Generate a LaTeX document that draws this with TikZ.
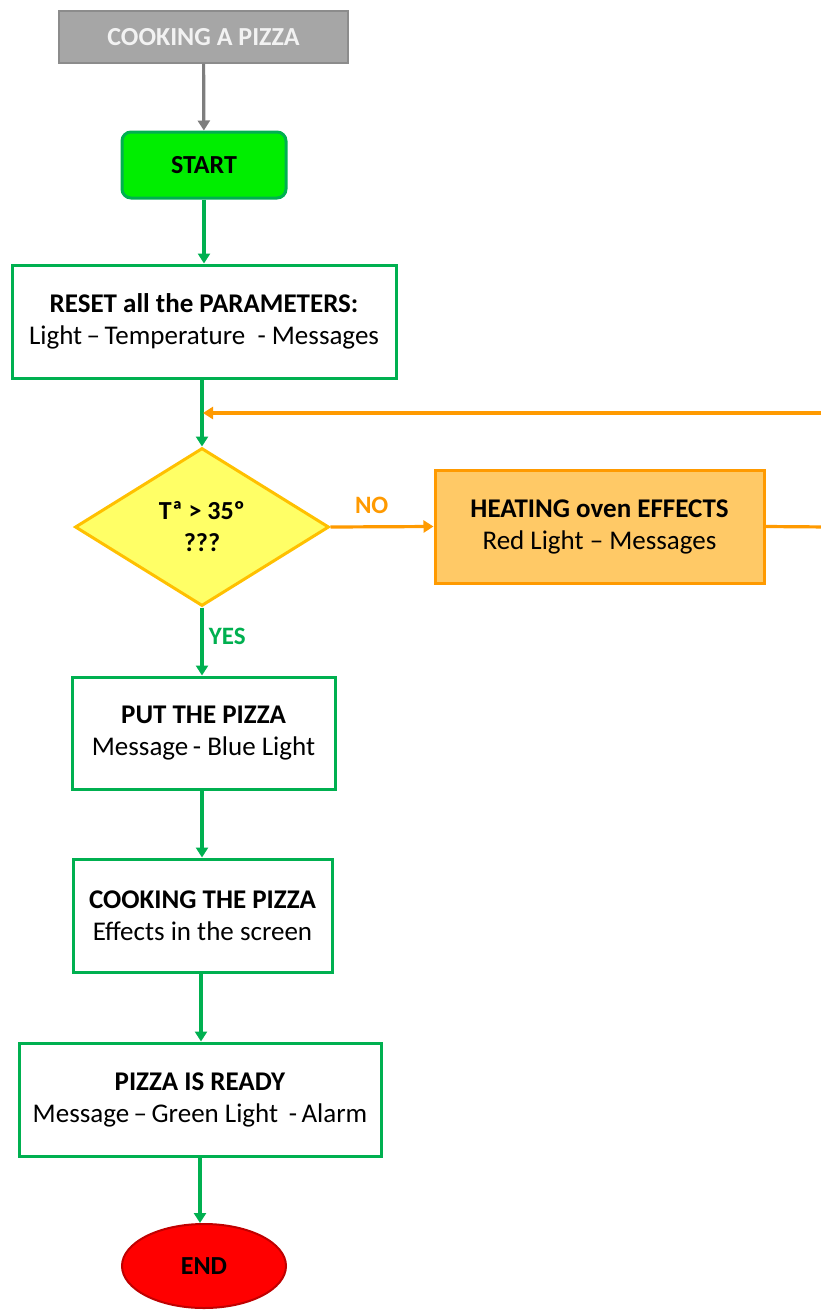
\documentclass[tikz,border=0pt]{standalone}
\usepackage{fontspec}
\setmainfont{Carlito}
\usetikzlibrary{arrows.meta,shapes.geometric}
\definecolor{grn}{HTML}{00B050}
\definecolor{startfill}{HTML}{00EE00}
\definecolor{org}{HTML}{FF9A00}
\definecolor{orgfill}{HTML}{FFC966}
\definecolor{yel}{HTML}{FFFF66}
\definecolor{yelb}{HTML}{FFC000}
\definecolor{titlefill}{HTML}{A6A6A6}
\definecolor{titleborder}{HTML}{8C8C8C}
\definecolor{titletext}{HTML}{F2F2F2}
\definecolor{endfill}{HTML}{FF0000}
\definecolor{endborder}{HTML}{C00000}
\tikzset{
  x=1pt, y=-1pt,
  txt/.style={font=\fontsize{27}{32}\selectfont, align=center, inner sep=0pt},
  bigbold/.style={font=\fontsize{26}{30}\selectfont\bfseries},
  lbl/.style={font=\fontsize{25}{28}\selectfont\bfseries},
  procbox/.style={txt, draw=grn, line width=3pt, fill=white, rectangle},
  arr/.style={line width=3.2pt, -{Triangle[width=12pt,length=10pt]}},
  garr/.style={arr, draw=grn, fill=grn},
}
\begin{document}
\begin{tikzpicture}
\useasboundingbox (0,0) rectangle (820,1310);
\fill[white] (0,0) rectangle (820,1310);
% title
\node[txt, draw=titleborder, fill=titlefill, line width=1.2pt, minimum width=289pt, minimum height=52pt, text=titletext, bigbold] (title) at (203.5,37) {COOKING A PIZZA};
% start
\node[txt, draw=grn, fill=startfill, line width=3pt, rounded corners=9pt, minimum width=164pt, minimum height=66pt, bigbold] (start) at (204,165) {START};
% reset
\node[procbox, minimum width=384pt, minimum height=113pt] (reset) at (204,321.5) {\textbf{RESET all the PARAMETERS:}\\Light\,–\,Temperature\ \ - Messages};
% decision
\node[txt, diamond, aspect=1.6, draw=yelb, fill=yel, line width=3pt, minimum width=254pt, minimum height=158pt, font=\fontsize{26}{32}\selectfont\bfseries] (dec) at (202,527) {Tª > 35º\\???};
% heating
\node[txt, draw=org, fill=orgfill, line width=3pt, minimum width=329pt, minimum height=113pt] (heat) at (599.5,526.5) {\textbf{HEATING oven EFFECTS}\\Red Light – Messages};
% put
\node[procbox, minimum width=263pt, minimum height=112pt] (put) at (203.5,733) {\textbf{PUT THE PIZZA}\\Message\,- Blue Light};
% cook
\node[procbox, minimum width=259pt, minimum height=113pt] (cook) at (202.5,915.5) {\textbf{COOKING THE PIZZA}\\Effects in the screen};
% ready
\node[procbox, minimum width=362pt, minimum height=113pt] (ready) at (200,1099.5) {\textbf{PIZZA IS READY}\\Message\,–\,Green Light\ \,-\,Alarm};
% end
\node[txt, ellipse, draw=endborder, fill=endfill, line width=2pt, minimum width=164pt, minimum height=84pt, bigbold] (end) at (204,1266) {END};

% connectors
\draw[arr, draw=titleborder!90!black, fill=titleborder!90!black] (title) -- (start);
\draw[garr] (start) -- (reset);
\coordinate (join) at (203,413);
\draw[garr] (reset.south -| dec.north) -- (dec.north);
\coordinate (loopR) at (830,527);
\coordinate (loopT) at (830,413);
\draw[line width=3.2pt, draw=org] (heat.east) -- (loopR) -- (loopT);
\draw[arr, draw=org, fill=org] (loopT) -- (join);
\draw[arr, draw=org, fill=org] (dec.east) -- node[above=8pt, pos=0.4, text=org, lbl] {NO} (heat.west);
\draw[garr] (dec.south) -- node[right=2pt, pos=0.42, text=grn, lbl] {YES} (put.north -| dec.south);
\draw[garr] (put.south -| dec.south) -- (cook.north -| dec.south);
\draw[garr] (cook.south -| ready.north) ++(1,0) -- ([xshift=1pt]ready.north);
\draw[garr] (ready.south) -- (end.north -| ready.south);
\end{tikzpicture}
\end{document}
